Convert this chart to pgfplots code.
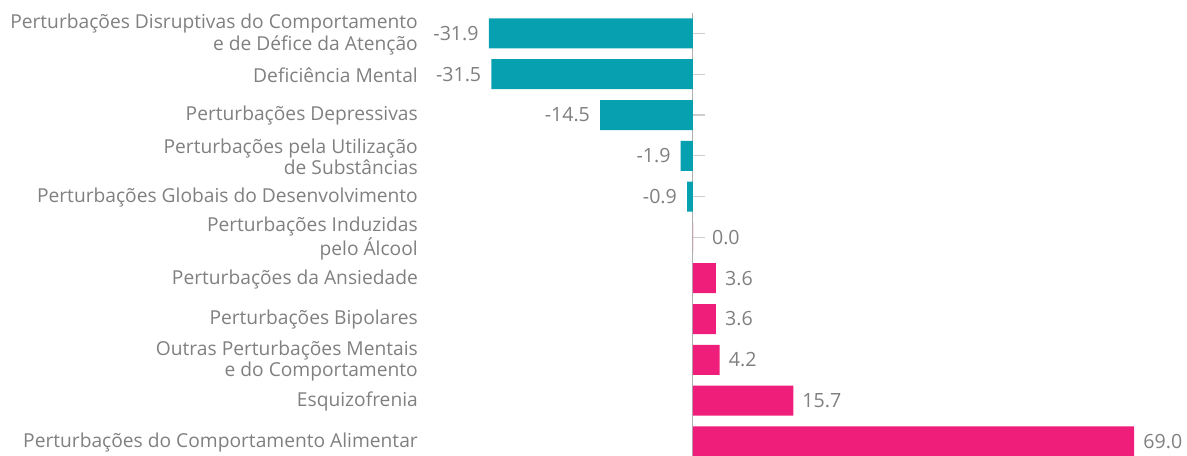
\documentclass[border=0pt]{standalone}
\usepackage{pgfplots}
\pgfplotsset{compat=1.18}
\usepackage{fontspec}
\setmainfont{Open Sans}
\definecolor{teal1}{RGB}{7,160,176}
\definecolor{pink1}{RGB}{238,30,122}
\definecolor{txt}{RGB}{128,128,128}
\definecolor{axl}{RGB}{175,175,175}
\definecolor{tkl}{RGB}{205,205,205}
\begin{document}
\begin{tikzpicture}
\useasboundingbox (0,0) rectangle (1187bp,456bp);
\begin{axis}[
  at={(437bp,-5.8bp)}, anchor=south west,
  scale only axis, width=750bp, height=448.8bp,
  xmin=-40, xmax=77.25, ymin=-0.5, ymax=10.5,
  y dir=reverse,
  xbar, bar width=30bp, bar shift=0pt,
  axis line style={draw=none},
  major tick length=0pt,
  xtick=\empty,
  ytick={0,...,10},
  yticklabels={{Perturbações Disruptivas do Comportamento\\e de Défice da Atenção},
    {Deficiência Mental},
    {Perturbações Depressivas},
    {Perturbações pela Utilização\\de Substâncias},
    {Perturbações Globais do Desenvolvimento},
    {Perturbações Induzidas\\pelo Álcool},
    {Perturbações da Ansiedade},
    {Perturbações Bipolares},
    {Outras Perturbações Mentais\\e do Comportamento},
    {Esquizofrenia},
    {Perturbações do Comportamento Alimentar}},
  yticklabel style={align=right, anchor=east, inner sep=0pt, xshift=-19bp, yshift=-1bp,
    font=\fontsize{19.2bp}{21.5bp}\selectfont, text=txt},
  point meta=x,
  nodes near coords={\pgfmathprintnumber[fixed,fixed zerofill,precision=1,assume math mode=true]{\pgfplotspointmeta}},
  every node near coord/.append style={font=\fontsize{19.6bp}{21.5bp}\selectfont, text=txt, inner sep=0pt},
  clip=false,
]
\draw[axl, line width=1bp] (axis cs:0,-0.5) -- (axis cs:0,10.5);
\pgfplotsinvokeforeach{0,...,10}{
  \draw[tkl, line width=1.2bp] (axis cs:0,#1) -- ++(12bp,0bp);
}
\addplot[draw=none, fill=teal1, every node near coord/.append style={anchor=east, xshift=-10bp}]
  coordinates {(-31.9,0) (-31.5,1) (-14.5,2) (-1.9,3) (-0.9,4)};
\addplot[draw=none, fill=pink1, every node near coord/.append style={anchor=west, xshift=19bp}]
  coordinates {(0,5)};
\addplot[draw=none, fill=pink1, every node near coord/.append style={anchor=west, xshift=9bp}]
  coordinates {(3.6,6) (3.6,7) (4.2,8) (15.7,9) (69.0,10)};
\end{axis}
\end{tikzpicture}
\end{document}
